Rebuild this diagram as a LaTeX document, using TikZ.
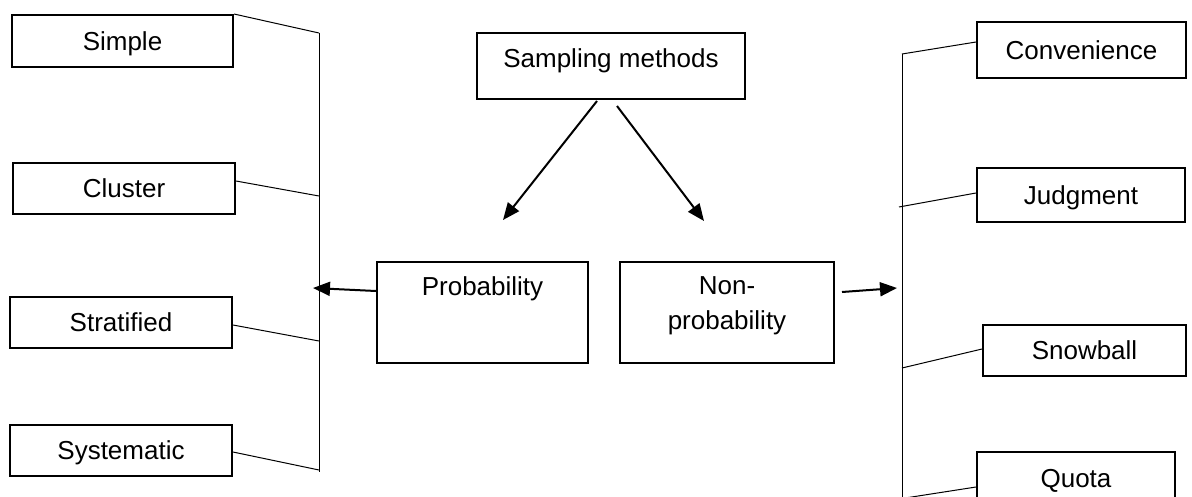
\documentclass[tikz,border=0pt]{standalone}
\usepackage{fontspec}
\setmainfont{Liberation Sans}
\usetikzlibrary{arrows.meta}
\begin{document}
\begin{tikzpicture}[x=1pt,y=-1pt,
  box/.style={draw, line width=2pt, inner sep=0pt, text height=18.6pt, text depth=0pt,
    font=\fontsize{26}{35}\selectfont},
  txt/.style={inner sep=0pt, font=\fontsize{26}{35}\selectfont},
  thinline/.style={line width=1pt},
  arr/.style={line width=2pt, -{Triangle[length=17pt,width=14pt]}}
]
\fill[white] (0,0) rectangle (1192,496);
\useasboundingbox (0,0) rectangle (1192,496);

% left boxes
\node[box, minimum width=221pt, minimum height=52pt] (simple) at (122.5,41) {Simple};
\node[box, minimum width=222pt, minimum height=51pt] (cluster) at (124,188.5) {Cluster};
\node[box, minimum width=222pt, minimum height=51pt] (strat) at (121,322.5) {Stratified};
\node[box, minimum width=222pt, minimum height=51pt] (syst) at (121,450.5) {Systematic};

% centre
\node[box, minimum width=268pt, minimum height=66pt, text depth=16.6pt] (sm) at (611,66) {Sampling methods};
\node[box, minimum width=211pt, minimum height=101pt] (prob) at (482.5,312.5) {};
\node[txt, anchor=north] (probtext) at (482.5,276) {Probability};
\node[box, minimum width=214pt, minimum height=101pt] (nonprob) at (727,312.5) {};
\node[txt, anchor=north, align=center] (nonprobtext) at (727,276) {Non-\\probability};

% right boxes
\node[box, minimum width=209pt, minimum height=56pt] (conv) at (1081.5,50) {Convenience};
\node[box, minimum width=208pt, minimum height=54pt] (judg) at (1081,195) {Judgment};
\node[box, minimum width=203pt, minimum height=51pt] (snow) at (1084.5,350.5) {Snowball};
\node[box, minimum width=198pt, minimum height=53pt] (quota) at (1076,478.5) {Quota};

% left bracket line
\coordinate (Ltop) at (319,33);
\coordinate (Lbot) at (319,472);
\coordinate (Lc) at (319,196);
\coordinate (Ls) at (319,341);
\coordinate (Ly) at (319,470);
\coordinate (Lp) at (313,288);
\draw[thinline] (Ltop) -- (Lbot);
\draw[thinline] (simple.north east) -- (Ltop);
\draw[thinline] ([yshift=7.5pt]cluster.east) -- (Lc);
\draw[thinline] ([yshift=-2.5pt]strat.east) -- (Ls);
\draw[thinline] ([yshift=-1.5pt]syst.east) -- (Ly);

% right bracket line
\coordinate (Rtop) at (902,54);
\coordinate (Rbot) at (902,500);
\coordinate (Rj) at (899,207);
\coordinate (Rs) at (902,368);
\coordinate (Rq) at (902,498.5);
\coordinate (Rp) at (897,288);
\draw[thinline] (Rtop) -- (Rbot);
\draw[thinline] (Rtop) -- ([yshift=8pt]conv.west);
\draw[thinline] (Rj) -- ([yshift=2pt]judg.west);
\draw[thinline] (Rs) -- ([yshift=1.5pt]snow.west);
\draw[thinline] (Rq) -- ([yshift=-8.5pt]quota.west);

% arrows
\coordinate (pa) at (503,220);
\coordinate (na) at (704,221);
\draw[arr] ([xshift=-14pt,yshift=-1pt]sm.south) -- (pa);
\draw[arr] ([xshift=6pt,yshift=-6pt]sm.south) -- (na);
\draw[arr] ([yshift=21.5pt]prob.west) -- (Lp);
\draw[arr] ([xshift=7pt,yshift=20.5pt]nonprob.east) -- (Rp);
\end{tikzpicture}
\end{document}
